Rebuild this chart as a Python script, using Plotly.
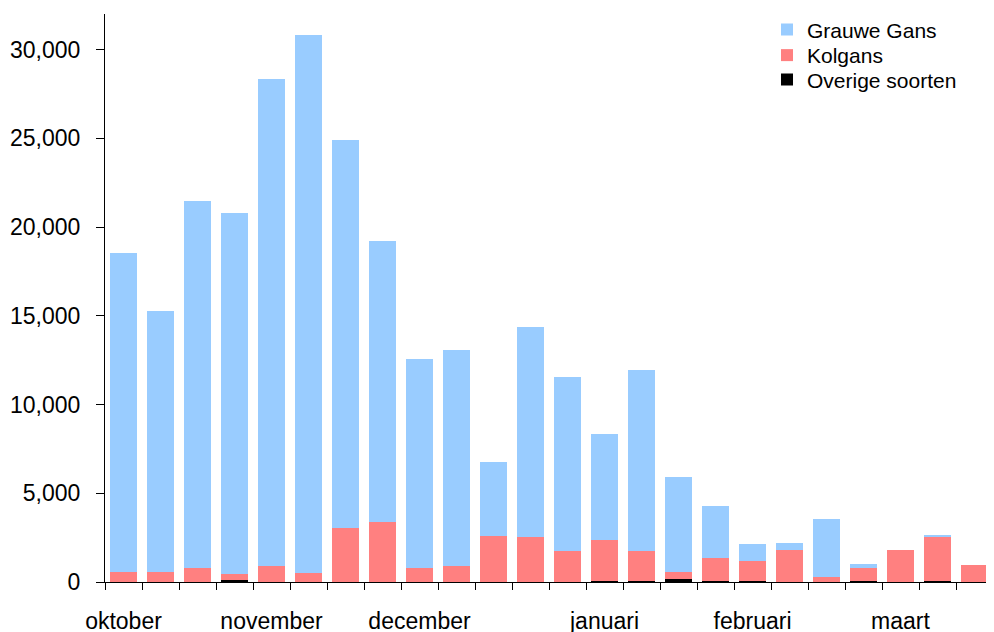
import plotly.graph_objects as go

# 24 counting periods, October to March
periods = list(range(24))
month_positions = [0, 4, 8, 13, 17, 21]
month_labels = ["oktober", "november", "december", "januari", "februari", "maart"]

grauwe_gans = [17970, 14700, 20670, 20350, 27440, 30320, 21860, 15830, 11760, 12160,
               4160, 11840, 9810, 5980, 10200, 5340, 2920, 940, 380, 3250,
               220, 0, 100, 0]
kolgans = [580, 580, 806, 320, 919, 524, 3062, 3400, 806, 919,
           2611, 2520, 1748, 2330, 1710, 410, 1340, 1170, 1820, 300,
           780, 1820, 2520, 980]
overige_soorten = [0, 0, 0, 130, 0, 0, 0, 0, 0, 0,
                   0, 20, 0, 40, 40, 170, 30, 30, 0, 0,
                   30, 0, 40, 0]

fig = go.Figure()
fig.add_trace(go.Bar(x=periods, y=overige_soorten, name="Overige soorten",
                     legend="legend3",
                     marker=dict(color="#000000", line_width=0)))
fig.add_trace(go.Bar(x=periods, y=kolgans, name="Kolgans",
                     legend="legend2",
                     marker=dict(color="#FF8080", line_width=0)))
fig.add_trace(go.Bar(x=periods, y=grauwe_gans, name="Grauwe Gans",
                     legend="legend",
                     marker=dict(color="#99CCFF", line_width=0)))

# one legend per entry so the rows can sit tighter than plotly's default spacing
def legend_row(y):
    return dict(x=0.7455, y=y, xanchor="left", yanchor="middle",
                font=dict(size=21), bgcolor="rgba(0,0,0,0)", itemwidth=30)

# the page body has an 8px margin, so the figure is 16px smaller than the window
fig.update_layout(
    width=986, height=624,
    barmode="stack", bargap=0.27,
    showlegend=True,
    plot_bgcolor="white", paper_bgcolor="white",
    font=dict(family="Liberation Sans, Arial", size=23, color="black"),
    margin=dict(l=97, r=1, t=6, b=50),
    legend=legend_row(0.972),
    legend2=legend_row(0.927),
    legend3=legend_row(0.884),
    xaxis=dict(
        range=[-0.5, 23.5],
        tickmode="array", tickvals=month_positions, ticktext=month_labels,
        ticks="", showline=True, linecolor="black", linewidth=1,
        showgrid=False, zeroline=False, automargin=False,
        ticklabelstandoff=18,
        minor=dict(tickmode="linear", tick0=-0.5, dtick=1, ticks="outside",
                   ticklen=7, tickcolor="black", showgrid=False),
    ),
    yaxis=dict(
        range=[0, 32000],
        tickvals=[0, 5000, 10000, 15000, 20000, 25000, 30000],
        tickformat=",d",
        ticks="outside", ticklen=8, tickcolor="black",
        ticklabelstandoff=11, automargin=False,
        showline=True, linecolor="black", linewidth=1,
        showgrid=False, zeroline=False,
    ),
)

fig.write_html("out.html")
